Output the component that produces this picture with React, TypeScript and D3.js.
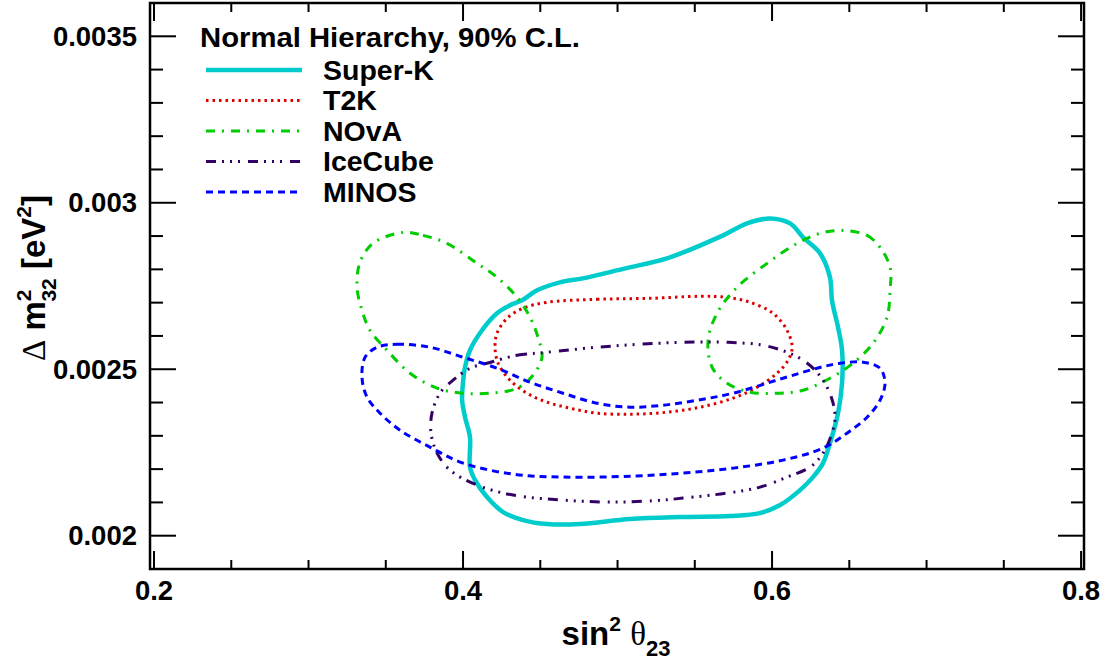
import React from 'react';
import * as d3 from 'd3';

const W = 1112;
const H = 661;

// Axis domains and tick labels
const X_DOMAIN: [number, number] = [0.1974, 0.8019];
const Y_DOMAIN: [number, number] = [0.0019, 0.0036];
const X_MAJOR = [0.2, 0.4, 0.6, 0.8];
const X_LABELS = ['0.2', '0.4', '0.6', '0.8'];
const Y_MAJOR = [0.002, 0.0025, 0.003, 0.0035];
const Y_LABELS = ['0.002', '0.0025', '0.003', '0.0035'];

// 90% C.L. contours: [sin^2 theta23, dm^2_32 (eV^2)]
const superK: [number, number][] = [
  [0.5987, 0.002953], [0.6117, 0.002938], [0.6201, 0.002896], [0.6311, 0.002848],
  [0.6375, 0.002776], [0.6388, 0.002707], [0.6427, 0.002626], [0.6453, 0.002557],
  [0.6453, 0.002458], [0.6427, 0.002368], [0.6375, 0.002278], [0.633, 0.002218],
  [0.6265, 0.002176], [0.6181, 0.002137], [0.6052, 0.002092], [0.5922, 0.002068],
  [0.5728, 0.002059], [0.5405, 0.002056], [0.5081, 0.00205], [0.4757, 0.002035],
  [0.4544, 0.002035], [0.4388, 0.002047], [0.4259, 0.002071], [0.4155, 0.002116],
  [0.4078, 0.002167], [0.4045, 0.002206], [0.4045, 0.002296], [0.4013, 0.002356],
  [0.3994, 0.002407], [0.4, 0.002461], [0.4013, 0.002506], [0.4045, 0.002557],
  [0.4123, 0.002617], [0.422, 0.002668], [0.4304, 0.002692], [0.4382, 0.002707],
  [0.4479, 0.002737], [0.4628, 0.002761], [0.4777, 0.002773], [0.5049, 0.002803],
  [0.532, 0.002833], [0.5683, 0.002902], [0.5838, 0.002938],
];

const t2k: [number, number][] = [
  [0.4544, 0.002701], [0.4867, 0.00271], [0.521, 0.002713], [0.5534, 0.002719],
  [0.5709, 0.002716], [0.5858, 0.002701], [0.6006, 0.002668], [0.6097, 0.002617],
  [0.613, 0.002566], [0.6104, 0.002527], [0.6032, 0.002488], [0.5903, 0.002446],
  [0.5748, 0.002413], [0.5534, 0.002386], [0.532, 0.002371], [0.51, 0.002365],
  [0.4867, 0.002368], [0.4693, 0.002383], [0.4544, 0.002401], [0.4414, 0.002428],
  [0.4304, 0.002467], [0.4227, 0.002518], [0.4207, 0.002566], [0.422, 0.002608],
  [0.4285, 0.002653], [0.4388, 0.002683],
];

const novaLower: [number, number][] = [
  [0.3612, 0.002911], [0.3741, 0.002902], [0.3896, 0.002878], [0.4091, 0.002818],
  [0.422, 0.002776], [0.435, 0.002716], [0.4434, 0.002656], [0.4485, 0.002596],
  [0.4511, 0.002536], [0.4453, 0.002482], [0.435, 0.002443], [0.4175, 0.002428],
  [0.4, 0.002428], [0.3832, 0.002443], [0.3657, 0.002488], [0.3508, 0.002557],
  [0.3398, 0.002617], [0.3346, 0.002677], [0.3314, 0.002746], [0.3333, 0.002821],
  [0.3417, 0.002878],
];

const novaUpper: [number, number][] = [
  [0.646, 0.002917], [0.6615, 0.002902], [0.6699, 0.002866], [0.6764, 0.002806],
  [0.6764, 0.002737], [0.6744, 0.002656], [0.6654, 0.002578], [0.6524, 0.002518],
  [0.6375, 0.002473], [0.6201, 0.002437], [0.6032, 0.002428], [0.5858, 0.002431],
  [0.5709, 0.002458], [0.5612, 0.002506], [0.5586, 0.002587], [0.5644, 0.002668],
  [0.5773, 0.002746], [0.5968, 0.002818], [0.6162, 0.002878], [0.6311, 0.002908],
];

const iceCube: [number, number][] = [
  [0.4155, 0.002518], [0.435, 0.002542], [0.4544, 0.002551], [0.4867, 0.002566],
  [0.5146, 0.002575], [0.5424, 0.002581], [0.5709, 0.002581], [0.5942, 0.002572],
  [0.6097, 0.002551], [0.6201, 0.002527], [0.6291, 0.002491], [0.6356, 0.002446],
  [0.6395, 0.002398], [0.6408, 0.002356], [0.6388, 0.002308], [0.633, 0.002248],
  [0.6246, 0.002206], [0.6097, 0.002176], [0.5922, 0.002146], [0.5709, 0.002128],
  [0.5424, 0.002113], [0.5294, 0.002107], [0.4971, 0.002101], [0.4647, 0.002107],
  [0.4324, 0.002122], [0.4091, 0.002152], [0.3916, 0.002197], [0.3832, 0.002248],
  [0.3793, 0.002308], [0.3799, 0.002368], [0.3851, 0.002428], [0.3935, 0.002467],
  [0.4045, 0.002503],
];

const minos: [number, number][] = [
  [0.3443, 0.002566], [0.3573, 0.002575], [0.3786, 0.002566], [0.4, 0.002536],
  [0.422, 0.002503], [0.4434, 0.002461], [0.4647, 0.002428], [0.4867, 0.002398],
  [0.5081, 0.002386], [0.5294, 0.002392], [0.5515, 0.002407], [0.5748, 0.002428],
  [0.6071, 0.002473], [0.6291, 0.002503], [0.644, 0.002518], [0.6589, 0.002521],
  [0.6699, 0.002503], [0.6731, 0.002458], [0.6699, 0.002407], [0.6615, 0.002356],
  [0.6485, 0.002308], [0.633, 0.002263], [0.6071, 0.002227], [0.5748, 0.002203],
  [0.5424, 0.002188], [0.51, 0.002179], [0.4647, 0.002176], [0.4324, 0.002185],
  [0.4, 0.002218], [0.3786, 0.002266], [0.3592, 0.002317], [0.3463, 0.002368],
  [0.3379, 0.002416], [0.3346, 0.002476], [0.3366, 0.002536],
];

const LEGEND_TITLE = 'Normal Hierarchy, 90% C.L.';
const SERIES_NAMES = ['Super-K', 'T2K', 'NOvA', 'IceCube', 'MINOS'];
const SERIES_COLORS = ['#00cccc', '#dd0000', '#00cc00', '#330066', '#0000ff'];
const SERIES_WIDTHS = [4.5, 3, 3, 3, 3];
const SERIES_DASHES = ['', '2.5,4', '9,7,2,7', '10,6,2,6,2,6,2,8', '7,5'];
const SERIES_CONTOURS = [[superK], [t2k], [novaLower, novaUpper], [iceCube], [minos]];

const FONT = '"Liberation Sans", Arial, Helvetica, sans-serif';
const SERIF = '"Liberation Serif", "Times New Roman", serif';

export default function App() {
  const left = 150, right = 1084, top = 3, bottom = 569;
  const xs = d3.scaleLinear().domain(X_DOMAIN).range([left, right]);
  const ys = d3.scaleLinear().domain(Y_DOMAIN).range([bottom, top]);
  const line = d3
    .line<[number, number]>()
    .x((d) => xs(d[0]))
    .y((d) => ys(d[1]))
    .curve(d3.curveCatmullRomClosed.alpha(0.5));

  const xMinor = d3.range(4, 17).map((i) => i * 0.05);
  const yMinor = d3.range(20, 36).map((i) => i / 10000);
  const isMajorX = (v: number) => X_MAJOR.some((m) => Math.abs(m - v) < 1e-6);
  const isMajorY = (v: number) => Y_MAJOR.some((m) => Math.abs(m - v) < 1e-9);

  const legX0 = 206, legX1 = 302, legTextX = 323;
  const legRowY = (i: number) => 70 + i * 30.5;

  return (
    <svg
      width={W}
      height={H}
      style={{ position: 'absolute', left: 0, top: 0, background: '#fff' }}
      fontFamily={FONT}
    >
      <rect x={0} y={0} width={W} height={H} fill="#fff" />
      <defs>
        <clipPath id="plotclip">
          <rect x={left} y={top} width={right - left} height={bottom - top} />
        </clipPath>
      </defs>

      {/* contours */}
      <g clipPath="url(#plotclip)" fill="none">
        {SERIES_CONTOURS.map((loops, si) =>
          loops.map((pts, li) => (
            <path
              key={`${si}-${li}`}
              d={line(pts) || ''}
              stroke={SERIES_COLORS[si]}
              strokeWidth={SERIES_WIDTHS[si]}
              strokeDasharray={SERIES_DASHES[si] || undefined}
              strokeLinejoin="round"
            />
          ))
        )}
      </g>

      {/* ticks */}
      <g stroke="#000" strokeWidth={2}>
        {xMinor.map((v, i) => {
          const len = isMajorX(v) ? 18 : 9;
          const x = xs(v);
          return (
            <g key={`xt${i}`}>
              <line x1={x} x2={x} y1={bottom} y2={bottom - len} />
              <line x1={x} x2={x} y1={top} y2={top + len} />
            </g>
          );
        })}
        {yMinor.map((v, i) => {
          const len = isMajorY(v) ? 26 : 13;
          const y = ys(v);
          return (
            <g key={`yt${i}`}>
              <line x1={left} x2={left + len} y1={y} y2={y} />
              <line x1={right} x2={right - len} y1={y} y2={y} />
            </g>
          );
        })}
      </g>

      {/* frame */}
      <rect
        x={left}
        y={top}
        width={right - left}
        height={bottom - top}
        fill="none"
        stroke="#000"
        strokeWidth={2.5}
      />

      {/* tick labels */}
      <g fontWeight="bold" fontSize={27.5} fill="#000">
        {X_MAJOR.map((v, i) => (
          <text key={`xl${i}`} x={xs(v)} y={599.5} textAnchor="middle">
            {X_LABELS[i]}
          </text>
        ))}
        {Y_MAJOR.map((v, i) => (
          <text key={`yl${i}`} x={137} y={ys(v) + 9.5} textAnchor="end">
            {Y_LABELS[i]}
          </text>
        ))}
      </g>

      {/* x axis title */}
      <text x={616} y={645} textAnchor="middle" fontSize={33} fontWeight="bold" fill="#000">
        <tspan>sin</tspan>
        <tspan fontSize={21} dy={-14}>2</tspan>
        <tspan dy={14}> </tspan>
        <tspan fontFamily={SERIF} fontWeight="normal">θ</tspan>
        <tspan fontSize={22} dy={11}>23</tspan>
      </text>

      {/* y axis title */}
      <text
        transform="translate(45,278) rotate(-90)"
        x={0}
        y={0}
        textAnchor="middle"
        fontSize={33}
        fontWeight="bold"
        fill="#000"
      >
        <tspan fontFamily={SERIF} fontWeight="normal">Δ</tspan>
        <tspan> m</tspan>
        <tspan fontSize={21} dy={-14}>2</tspan>
        <tspan fontSize={21} dx={-12} dy={25}>32</tspan>
        <tspan dy={-11}> [eV</tspan>
        <tspan fontSize={21} dy={-14}>2</tspan>
        <tspan dy={14}>]</tspan>
      </text>

      {/* legend */}
      <text
        x={200}
        y={47}
        fontSize={27}
        fontWeight="bold"
        fill="#000"
        textLength={380}
        lengthAdjust="spacingAndGlyphs"
      >
        {LEGEND_TITLE}
      </text>
      {SERIES_NAMES.map((name, i) => {
        const y = legRowY(i);
        return (
          <g key={`lg${i}`}>
            <line
              x1={legX0}
              x2={legX1}
              y1={y}
              y2={y}
              stroke={SERIES_COLORS[i]}
              strokeWidth={SERIES_WIDTHS[i]}
              strokeDasharray={SERIES_DASHES[i] || undefined}
            />
            <text x={legTextX} y={y + 9.5} fontSize={28.5} fontWeight="bold" fill="#000">
              {name}
            </text>
          </g>
        );
      })}
    </svg>
  );
}
